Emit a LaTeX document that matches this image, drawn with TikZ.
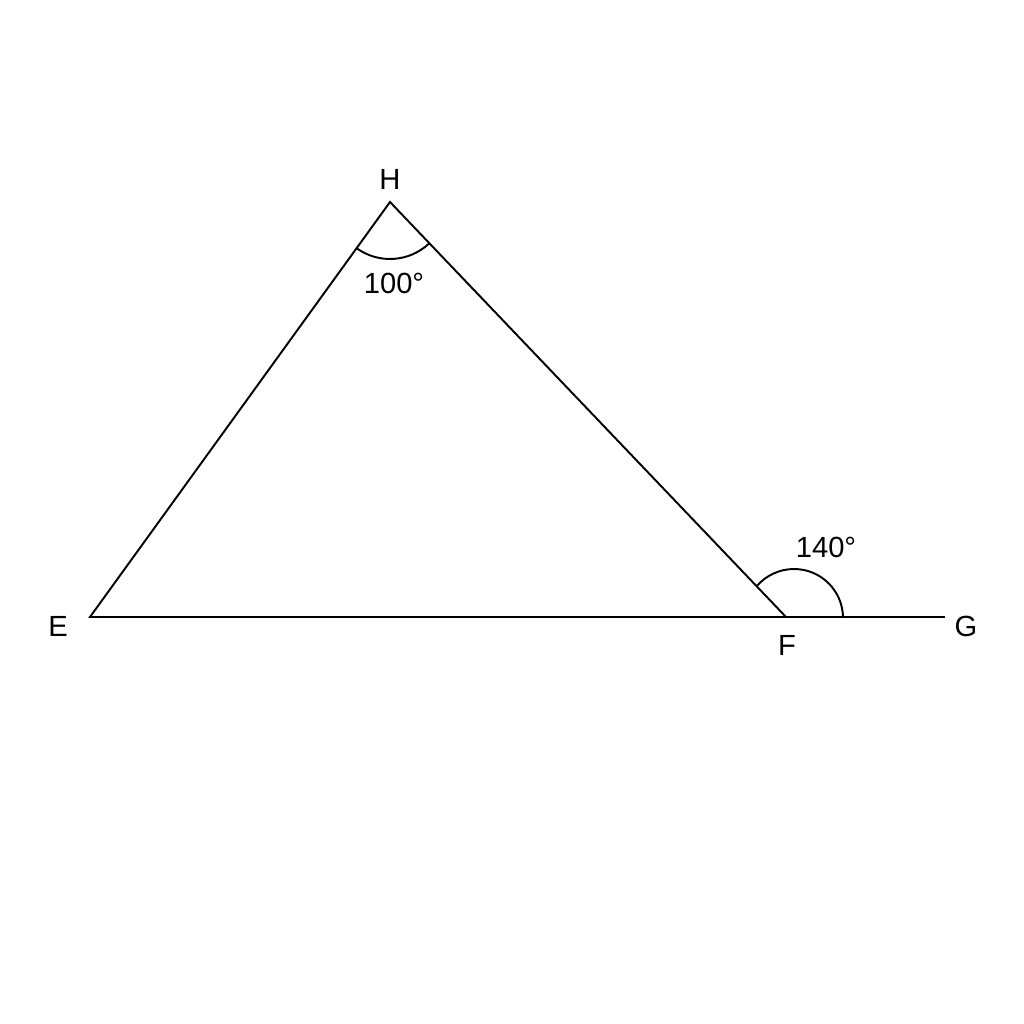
\documentclass[tikz,border=0pt]{standalone}
\usepackage{fontspec}
\setmainfont{Liberation Sans}
\begin{document}
\begin{tikzpicture}[x=0.02cm, y=-0.02cm, line width=1.1pt, every node/.style={font=\fontsize{16.6}{20}\selectfont, inner sep=0pt}]
			\useasboundingbox (0,0) rectangle (1024,1024);
			% Vertici
			\coordinate (E) at (90,617);
			\coordinate (H) at (390,202);
			\coordinate (F) at (786,617);
			\coordinate (G) at (945,617);
			\coordinate (Fc) at (794,618);
			
			% Triangolo e prolungamento
			\draw (E) -- (H) -- (F) -- cycle;
			\draw (F) -- (G);
			
			% Angoli
			\draw ([shift={(125.9:57)}]H) arc[start angle=125.9, end angle=46.4, radius=57];
			\draw ([shift={(0:49)}]Fc) arc[start angle=0, end angle=-140, radius=49];
			
			% Etichette
			\node (lH) at (390,179) {H};
			\node (lE) at (58,626) {E};
			\node (lF) at (787,645) {F};
			\node (lG) at (966,626) {G};
			\node (aH) at (394,283) {100°};
			\node (aF) at (826,547) {140°};
		\end{tikzpicture}
\end{document}
